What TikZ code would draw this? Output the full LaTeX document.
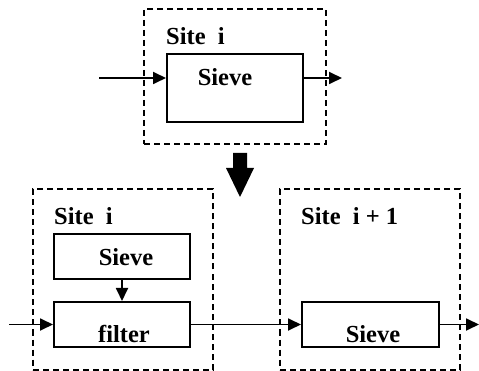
\documentclass[tikz,border=0pt]{standalone}
\usepackage{fontspec}
\setmainfont{Liberation Serif}
\usetikzlibrary{arrows.meta}
\begin{document}
\begin{tikzpicture}[x=1pt,y=-1pt,
  site/.style={draw,line width=2pt,dash pattern=on 6pt off 4pt,inner sep=0pt},
  box/.style={draw,line width=2pt,inner sep=0pt},
  lbl/.style={font=\fontsize{24.5}{28}\selectfont\bfseries,inner sep=0pt,anchor=base},
  flow/.style={line width=1.8pt,-{Triangle[length=13pt,width=12pt]}}]
\useasboundingbox (0,0) rectangle (479,371);
% upper stage: one site with a single sieve
\node[site,minimum width=182pt,minimum height=135pt] (siteA) at (235,76.5) {};
\node[box,minimum width=136pt,minimum height=68pt] (sieveA) at (235,88) {};
\node[lbl,anchor=base west] (tA) at (166,45) {Site\ \ i};
\node[lbl] (sA) at (225,85.7) {Sieve};
\coordinate (inA) at (99,78);
\coordinate (outA) at (342,78);
\draw[flow] (inA) -- (inA -| sieveA.west);
\draw[flow] (sieveA.east |- outA) -- (outA);
% block arrow between the two stages
\fill (233,153) -- (247,153) -- (247,168) -- (254,168) -- (240,197) -- (226,168) -- (233,168) -- cycle;
% lower stage: site i with sieve and filter
\node[site,minimum width=180pt,minimum height=180pt] (siteB) at (123,279.5) {};
\node[box,minimum width=136pt,minimum height=45pt] (sieveB) at (122,256.5) {};
\node[box,minimum width=136pt,minimum height=45pt] (filterB) at (122,324.5) {};
\node[lbl,anchor=base west] (tB) at (54,225) {Site\ \ i};
\node[lbl] (sB) at (126,265.7) {Sieve};
\node[lbl] (fB) at (124,342.7) {filter};
\draw[flow] (sieveB) -- (filterB);
\coordinate (inB) at (9,324.5);
\draw[flow] (inB) -- (filterB.west);
% lower stage: site i + 1
\node[site,minimum width=180pt,minimum height=180pt] (siteC) at (370,279.5) {};
\node[box,minimum width=137pt,minimum height=45pt] (sieveC) at (370.5,324.5) {};
\node[lbl,anchor=base west] (tC) at (301,225) {Site\ \ i + 1};
\node[lbl] (sC) at (373,342.7) {Sieve};
\draw[flow] (filterB) -- (sieveC);
\coordinate (outC) at (479,324.5);
\draw[flow] (sieveC.east) -- (outC);
\end{tikzpicture}
\end{document}
